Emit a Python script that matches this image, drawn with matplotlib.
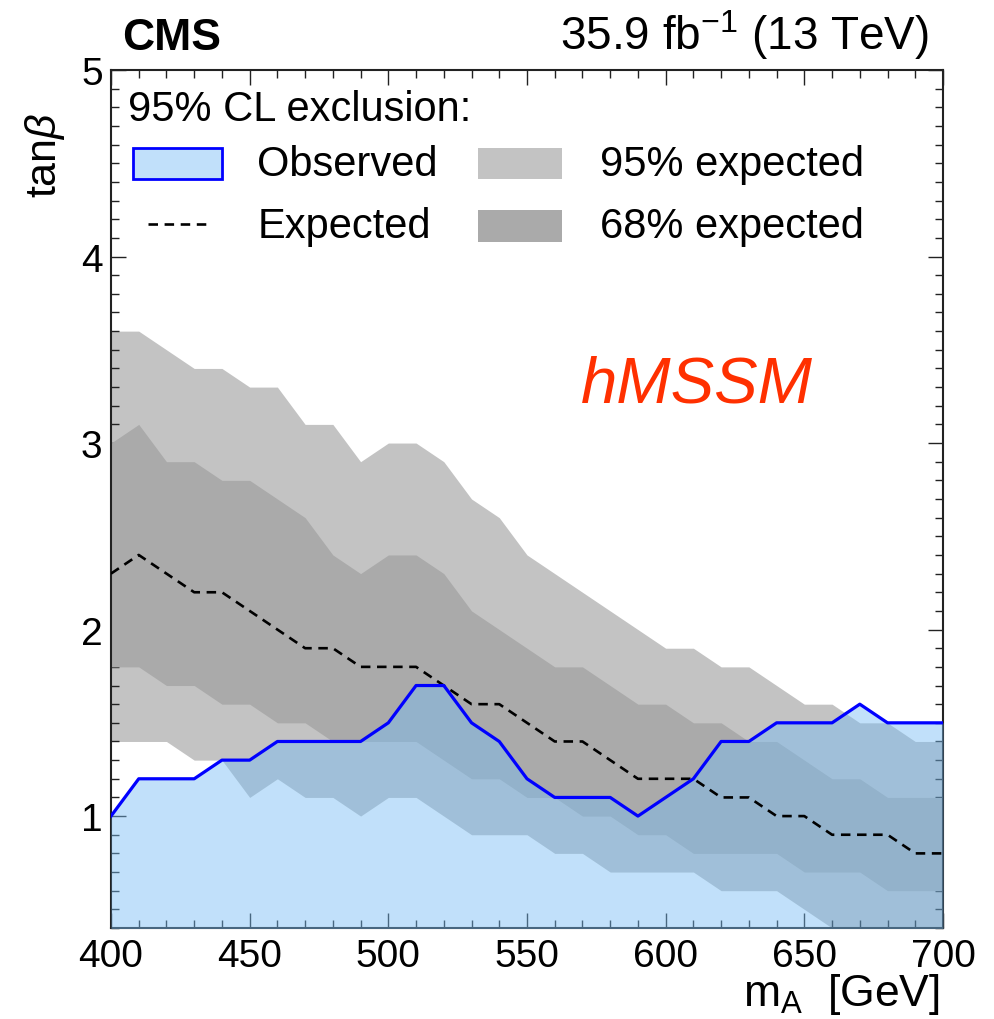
import matplotlib
matplotlib.use("Agg")
import matplotlib.pyplot as plt
from matplotlib.patches import Rectangle
from matplotlib.lines import Line2D
from matplotlib.ticker import MultipleLocator

plt.rcParams['font.family'] = ['Liberation Sans', 'DejaVu Sans']
plt.rcParams['mathtext.fontset'] = 'custom'
plt.rcParams['mathtext.rm'] = 'Liberation Sans'
plt.rcParams['mathtext.it'] = 'Liberation Sans:italic'
plt.rcParams['mathtext.bf'] = 'Liberation Sans:bold'

# hMSSM scan: pseudoscalar mass and tan(beta) exclusion contours
mass = [400, 410, 420, 430, 440, 450, 460, 470, 480, 490, 500,
        510, 520, 530, 540, 550, 560, 570, 580, 590, 600,
        610, 620, 630, 640, 650, 660, 670, 680, 690, 700]

observed = [1.0, 1.2, 1.2, 1.2, 1.3, 1.3, 1.4, 1.4, 1.4, 1.4, 1.5,
            1.7, 1.7, 1.5, 1.4, 1.2, 1.1, 1.1, 1.1, 1.0, 1.1,
            1.2, 1.4, 1.4, 1.5, 1.5, 1.5, 1.6, 1.5, 1.5, 1.5]

expected = [2.3, 2.4, 2.3, 2.2, 2.2, 2.1, 2.0, 1.9, 1.9, 1.8, 1.8,
            1.8, 1.7, 1.6, 1.6, 1.5, 1.4, 1.4, 1.3, 1.2, 1.2,
            1.2, 1.1, 1.1, 1.0, 1.0, 0.9, 0.9, 0.9, 0.8, 0.8]

exp68_up = [3.0, 3.1, 2.9, 2.9, 2.8, 2.8, 2.7, 2.6, 2.4, 2.3, 2.4,
            2.4, 2.3, 2.1, 2.0, 1.9, 1.8, 1.8, 1.7, 1.6, 1.6,
            1.5, 1.5, 1.4, 1.4, 1.3, 1.2, 1.2, 1.1, 1.1, 1.1]

exp68_dn = [1.8, 1.8, 1.7, 1.7, 1.6, 1.6, 1.5, 1.5, 1.4, 1.4, 1.4,
            1.4, 1.3, 1.2, 1.2, 1.1, 1.1, 1.0, 1.0, 0.9, 0.9,
            0.8, 0.8, 0.8, 0.8, 0.7, 0.7, 0.7, 0.6, 0.6, 0.6]

exp95_up = [3.6, 3.6, 3.5, 3.4, 3.4, 3.3, 3.3, 3.1, 3.1, 2.9, 3.0,
            3.0, 2.9, 2.7, 2.6, 2.4, 2.3, 2.2, 2.1, 2.0, 1.9,
            1.9, 1.8, 1.8, 1.7, 1.6, 1.6, 1.5, 1.5, 1.4, 1.4]

exp95_dn = [1.4, 1.4, 1.4, 1.3, 1.3, 1.1, 1.2, 1.1, 1.1, 1.0, 1.1,
            1.1, 1.0, 0.9, 0.9, 0.9, 0.8, 0.8, 0.7, 0.7, 0.7,
            0.7, 0.6, 0.6, 0.6, 0.5, 0.4, 0.3, 0.3, 0.3, 0.3]

C95 = '#c3c3c3'
C68 = '#aaaaaa'
OBS_FILL = '#77bcf4'
OBS_ALPHA = 0.45
OBS_LINE = '#0000ff'
DASH = (3.6, 2.5)

fig = plt.figure(figsize=(9.94, 10.2), dpi=100)
ax = fig.add_axes([111 / 994, 1 - 929 / 1020, 832 / 994, 858 / 1020])

ax.fill_between(mass, exp95_dn, exp95_up, color=C95, lw=0, zorder=1)
ax.fill_between(mass, exp68_dn, exp68_up, color=C68, lw=0, zorder=2)
ax.fill_between(mass, 0, observed, color=OBS_FILL, alpha=OBS_ALPHA, lw=0, zorder=3)
ax.plot(mass, expected, color='black', lw=1.9, dashes=DASH, zorder=4)
ax.plot(mass, observed, color=OBS_LINE, lw=2.3, zorder=5)

ax.set_xlim(400, 700)
ax.set_ylim(0.4, 5)

ax.xaxis.set_major_locator(MultipleLocator(50))
ax.xaxis.set_minor_locator(MultipleLocator(10))
ax.yaxis.set_major_locator(MultipleLocator(1))
ax.yaxis.set_minor_locator(MultipleLocator(0.1))

ax.tick_params(which='both', direction='in', top=True, right=True,
               width=1.0, colors='#222222', labelcolor='black')
ax.tick_params(which='major', length=11)
ax.tick_params(which='minor', length=5.5)
ax.tick_params(axis='x', which='major', labelsize=28, pad=7)
ax.tick_params(axis='y', which='major', labelsize=28, pad=6)
for sp in ax.spines.values():
    sp.set_linewidth(1.5)
    sp.set_color('#222222')

ax.set_xlabel(r'm$_{\rm A}$  [GeV]', fontsize=32, ha='right', x=0.996, labelpad=-2)
ax.set_ylabel(r'tan$\beta$', fontsize=31, ha='right', y=0.951, labelpad=10)

# header texts
fig.text(122 / 994, 1 - 50 / 1020, 'CMS', fontsize=32, fontweight='bold',
         ha='left', va='baseline')
fig.text(929 / 994, 1 - 50 / 1020, r'35.9 fb$^{-1}$ (13 TeV)', fontsize=33,
         ha='right', va='baseline')

ax.text(0.704, 0.634, 'hMSSM', transform=ax.transAxes, fontsize=47,
        style='italic', color='#ff3000', ha='center', va='center')

# legend drawn in axes coordinates
T = ax.transAxes
ax.text(0.0204, 0.9545, '95% CL exclusion:', transform=T, fontsize=30,
        ha='left', va='center', zorder=10)
ax.add_patch(Rectangle((0.0264, 0.8730), 0.107, 0.0361, transform=T,
                       facecolor=OBS_FILL, alpha=OBS_ALPHA, lw=0, zorder=10))
ax.add_patch(Rectangle((0.0264, 0.8730), 0.107, 0.0361, transform=T,
                       facecolor='none', edgecolor=OBS_LINE, lw=2.0, zorder=11))
ax.text(0.1755, 0.8904, 'Observed', transform=T, fontsize=30,
        ha='left', va='center', zorder=10)
ax.add_line(Line2D([0.0445, 0.1166], [0.8205, 0.8205], transform=T,
                   color='black', lw=1.9, dashes=DASH, zorder=10))
ax.text(0.1767, 0.8182, 'Expected', transform=T, fontsize=30,
        ha='left', va='center', zorder=10)
ax.add_patch(Rectangle((0.441, 0.8730), 0.101, 0.0361, transform=T,
                       facecolor=C95, lw=0, zorder=10))
ax.text(0.5877, 0.8904, '95% expected', transform=T, fontsize=30,
        ha='left', va='center', zorder=10)
ax.add_patch(Rectangle((0.441, 0.7995), 0.101, 0.0373, transform=T,
                       facecolor=C68, lw=0, zorder=10))
ax.text(0.5877, 0.8182, '68% expected', transform=T, fontsize=30,
        ha='left', va='center', zorder=10)

fig.savefig('out.png', dpi=100)
